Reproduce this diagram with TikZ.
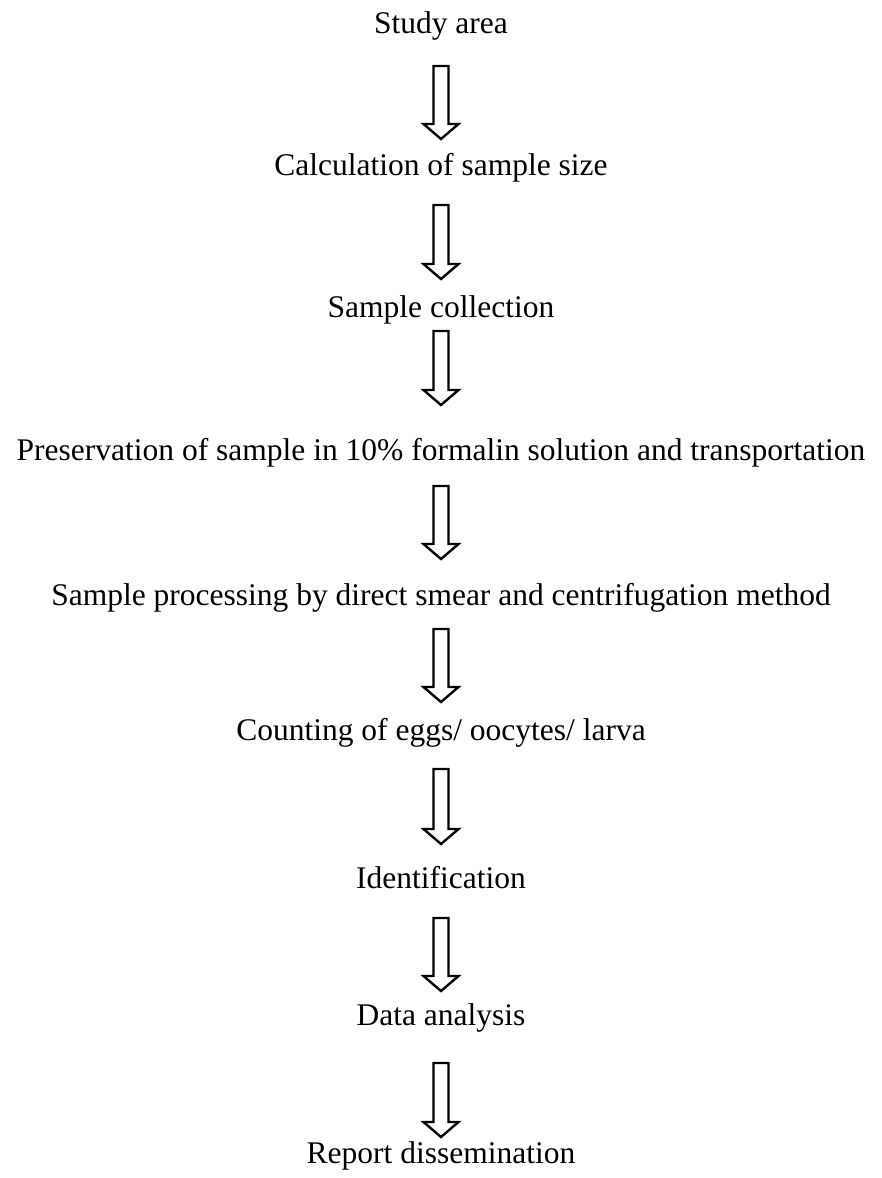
\documentclass[tikz,border=0pt]{standalone}
\usepackage{fontspec}
\setmainfont{Liberation Serif}
\usepackage{tikz}
\usetikzlibrary{calc,positioning}

% hollow block arrow from #1 (top) down to #2 (tip)
\newcommand{\blockarr}[2]{%
  \draw[barr]($(#1)+(-7.5,0)$)--($(#2)+(-7.5,-15)$)--($(#2)+(-17.5,-15)$)--(#2)
    --($(#2)+(17.5,-15)$)--($(#2)+(7.5,-15)$)--($(#1)+(7.5,0)$)--cycle;}

\begin{document}
\begin{tikzpicture}[x=1pt,y=-1pt,
  lbl/.style={anchor=base,inner sep=0pt,font=\fontsize{31.5}{38}\selectfont},
  barr/.style={draw=black,line width=2.4pt,fill=white,line join=miter}
]
  \useasboundingbox (0,0) rectangle (881,1178);

  \node[lbl](s0) at (441,33)  {Study area};
  \node[lbl](s1) at (441,175) {Calculation of sample size};
  \node[lbl](s2) at (441,317) {Sample collection};
  \node[lbl](s3) at (441,460) {Preservation of sample in 10\% formalin solution and transportation};
  \node[lbl](s4) at (441,605) {Sample processing by direct smear and centrifugation method};
  \node[lbl](s5) at (441,740) {Counting of eggs/ oocytes/ larva};
  \node[lbl](s6) at (441,888) {Identification};
  \node[lbl](s7) at (441,1025){Data analysis};
  \node[lbl](s8) at (441,1163){Report dissemination};

  \coordinate(t1) at (441,66);   \coordinate(b1) at (441,139);
  \coordinate(t2) at (441,205);  \coordinate(b2) at (441,279);
  \coordinate(t3) at (441,331);  \coordinate(b3) at (441,405);
  \coordinate(t4) at (441,486);  \coordinate(b4) at (441,559);
  \coordinate(t5) at (441,629);  \coordinate(b5) at (441,702);
  \coordinate(t6) at (441,769);  \coordinate(b6) at (441,844);
  \coordinate(t7) at (441,918);  \coordinate(b7) at (441,991);
  \coordinate(t8) at (441,1063); \coordinate(b8) at (441,1137);

  \foreach \i in {1,...,8}{\blockarr{t\i}{b\i}}
\end{tikzpicture}
\end{document}
